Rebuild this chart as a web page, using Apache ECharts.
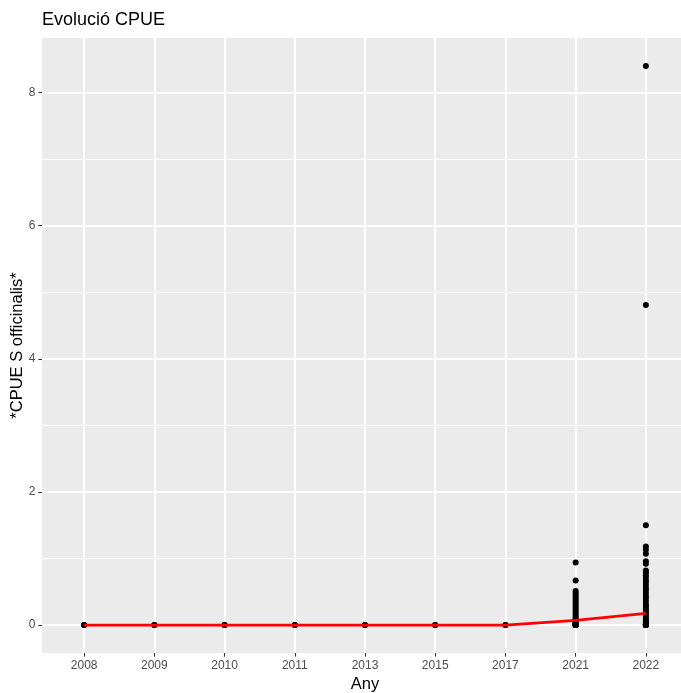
<!DOCTYPE html>
<html>
<head>
<meta charset="utf-8">
<script src="https://cdn.jsdelivr.net/npm/echarts@6/dist/echarts.min.js"></script>
<style>html,body{margin:0;padding:0;background:#fff}#c{width:681px;height:693px}</style>
</head>
<body>
<div id="c"></div>
<script>
const categories = ['2008','2009','2010','2011','2013','2015','2017','2021','2022'];
const yTicks = [0, 2, 4, 6, 8];
const yMinorTicks = [1, 3, 5, 7];
const v2008 = [0, 0];
const v2009 = [0, 0];
const v2010 = [0, 0];
const v2011 = [0, 0];
const v2013 = [0, 0];
const v2015 = [0, 0];
const v2017 = [0, 0];
const v2021 = [0.94, 0.67, 0.51, 0.48, 0.45, 0.42, 0.39, 0.36, 0.33, 0.30, 0.27, 0.24, 0.21, 0.18, 0.15, 0.12, 0.10, 0.08, 0.06, 0.05, 0.04, 0.03, 0.02, 0.02, 0.01, 0.01, 0, 0, 0, 0, 0, 0];
const v2022 = [8.40, 4.81, 1.50, 1.18, 1.13, 1.07, 0.96, 0.92, 0.82, 0.79, 0.75, 0.71, 0.67, 0.63, 0.59, 0.55, 0.51, 0.47, 0.43, 0.39, 0.35, 0.31, 0.28, 0.25, 0.22, 0.19, 0.16, 0.13, 0.10, 0.08, 0.06, 0.04, 0.03, 0.02, 0.01, 0.01, 0, 0, 0, 0, 0, 0];
const yearValues = [v2008, v2009, v2010, v2011, v2013, v2015, v2017, v2021, v2022];
const means = [0, 0, 0, 0, 0, 0, 0, 0.07, 0.175];
const yTitle = '*CPUE S officinalis*';

const points = [];
yearValues.forEach((arr, i) => arr.forEach(v => points.push([i, v])));
const linePts = means.map((m, i) => [i, m]);
const xIdx = categories.map((c, i) => i);

const chart = echarts.init(document.getElementById('c'), null, {renderer: 'canvas'});
const font = '"Liberation Sans", Arial, Helvetica, sans-serif';
chart.setOption({
  animation: false,
  backgroundColor: '#ffffff',
  textStyle: {fontFamily: font},
  title: {
    text: 'Evolució CPUE', left: 42, top: 11, padding: 0,
    textStyle: {fontFamily: font, fontSize: 18, fontWeight: 'normal', color: '#000000'}
  },
  graphic: [{
    type: 'text', x: 17, y: 345.5, rotation: Math.PI / 2,
    style: {text: yTitle, fontFamily: font, fontSize: 16.5, fill: '#000000', align: 'center', verticalAlign: 'middle'}
  }],
  grid: {left: 42, right: -7, top: 38, bottom: 40, show: true, backgroundColor: '#EBEBEB', borderWidth: 0,
    containLabel: false, outerBoundsMode: 'none'},
  xAxis: {
    type: 'value', min: -0.6, max: 8.6,
    name: 'Any', nameLocation: 'middle', nameGap: 21,
    nameTextStyle: {fontFamily: font, fontSize: 16.5, color: '#000000'},
    axisLine: {show: false, onZero: false},
    axisTick: {show: true, length: 3.67, customValues: xIdx, lineStyle: {color: '#333333', width: 1.07}},
    axisLabel: {customValues: xIdx, margin: 6.5, fontSize: 12, color: '#4D4D4D', fontFamily: font,
      formatter: v => categories[Math.round(v)] || ''},
    splitLine: {show: true, lineStyle: {color: '#ffffff', width: 1.9}}
  },
  yAxis: [{
    type: 'value', min: -0.42, max: 8.82,
    axisLine: {show: false, onZero: false},
    axisTick: {show: true, length: 3.67, customValues: yTicks, lineStyle: {color: '#333333', width: 1.07}},
    axisLabel: {customValues: yTicks, margin: 6.5, fontSize: 12, color: '#4D4D4D', fontFamily: font},
    splitLine: {show: true, lineStyle: {color: '#ffffff', width: 1.9}},
    z: 1
  }, {
    type: 'value', min: -0.42, max: 8.82, position: 'left',
    axisLine: {show: false, onZero: false},
    axisTick: {show: false, customValues: yMinorTicks},
    axisLabel: {show: false, customValues: yMinorTicks},
    splitLine: {show: true, lineStyle: {color: '#ffffff', width: 0.95}},
    z: 0
  }],
  series: [{
    type: 'scatter', data: points, symbolSize: 6,
    itemStyle: {color: '#000000', opacity: 1}, z: 3
  }, {
    type: 'line', data: linePts, showSymbol: false, symbol: 'none',
    lineStyle: {color: '#FF0000', width: 2.8}, z: 4
  }]
});
</script>
</body>
</html>
